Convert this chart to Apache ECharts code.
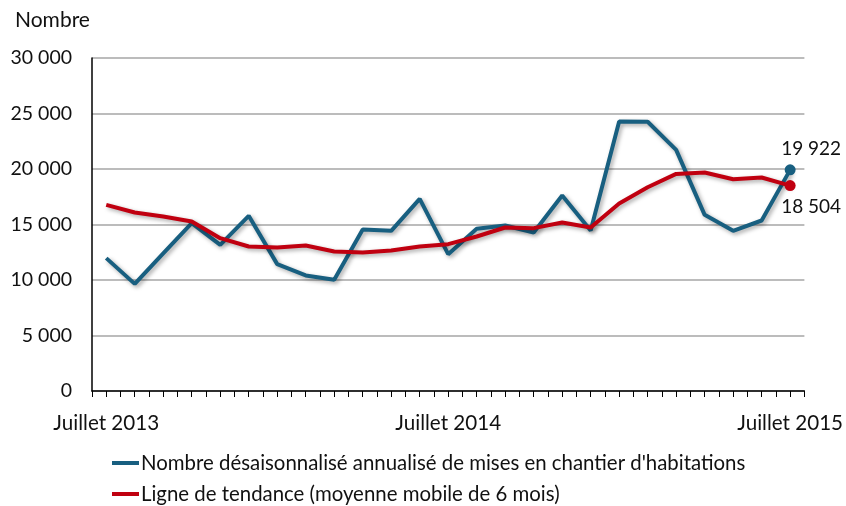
<!DOCTYPE html>
<html>
<head>
<meta charset="utf-8">
<title>Mises en chantier</title>
<script src="https://cdn.jsdelivr.net/npm/echarts@6/dist/echarts.min.js"></script>
<style>
  html, body { margin: 0; padding: 0; background: #fff; }
  #chart { width: 846px; height: 506px; }
</style>
</head>
<body>
<div id="chart"></div>
<script>
// mois, de juillet 2013 à juillet 2015
var months = [
  'Juillet 2013', 'Août 2013', 'Septembre 2013', 'Octobre 2013', 'Novembre 2013', 'Décembre 2013',
  'Janvier 2014', 'Février 2014', 'Mars 2014', 'Avril 2014', 'Mai 2014', 'Juin 2014',
  'Juillet 2014', 'Août 2014', 'Septembre 2014', 'Octobre 2014', 'Novembre 2014', 'Décembre 2014',
  'Janvier 2015', 'Février 2015', 'Mars 2015', 'Avril 2015', 'Mai 2015', 'Juin 2015',
  'Juillet 2015'
]
// nombre désaisonnalisé annualisé
var housingStarts = [
  11970, 9650, 12390, 15120, 13170, 15780, 11430, 10410, 10020, 14550, 14430, 17310,
  12330, 14610, 14910, 14280, 17610, 14460, 24270, 24260, 21720, 15870, 14430, 15360,
  19922
]
// moyenne mobile de 6 mois
var trend = [
  16770, 16080, 15720, 15270, 13770, 13020, 12930, 13110, 12570, 12480, 12660, 13020,
  13230, 13920, 14730, 14670, 15180, 14730, 16900, 18360, 19560, 19680, 19080, 19230,
  18504
]
var yTicks = [0, 5000, 10000, 15000, 20000, 25000, 30000]

var seriesNames = [
  "Nombre désaisonnalisé annualisé de mises en chantier d'habitations",
  'Ligne de tendance (moyenne mobile de 6 mois)'
]
var colors = ['#185f80', '#c00010']
var FONT = 'Lato'

function fmt(v) {
  return String(v).replace(/\B(?=(\d{3})+(?!\d))/g, ' ')
}

// seul le dernier point porte un marqueur et une étiquette
function withEndPoint(values, labelPos) {
  return values.map(function (v, i) {
    if (i !== values.length - 1) return v
    return {
      value: v,
      symbol: 'circle',
      symbolSize: 11,
      label: {
        show: true,
        position: labelPos,
        distance: 6,
        offset: [21, 0],
        fontFamily: FONT,
        fontSize: 19,
        color: '#111',
        formatter: function (p) { return fmt(p.value) }
      }
    }
  })
}

var lineShadow = {
  shadowColor: 'rgba(0,0,0,0.35)',
  shadowBlur: 4,
  shadowOffsetX: 2,
  shadowOffsetY: 2
}

function legendRow(name, top) {
  return {
    left: 107,
    top: top,
    itemWidth: 27,
    itemHeight: 4,
    icon: 'rect',
    textStyle: { fontFamily: FONT, fontSize: 20.4, color: '#111', lineHeight: 24, padding: [0, 0, 0, -3] },
    data: [name]
  }
}

var myChart = echarts.init(document.getElementById('chart'))
var options = {
  animation: false,
  textStyle: { fontFamily: FONT },
  title: {
    text: 'Nombre',
    left: 10,
    top: 5,
    textStyle: { fontFamily: FONT, fontSize: 21, fontWeight: 'normal', color: '#111' }
  },
  legend: [legendRow(seriesNames[0], 446), legendRow(seriesNames[1], 477)],
  grid: {
    left: 92,
    right: 40,
    top: 58,
    bottom: 115,
    containLabel: false
  },
  xAxis: [{
    type: 'category',
    boundaryGap: true,
    data: months,
    axisLine: { lineStyle: { color: '#000', width: 1.5 } },
    axisTick: { show: false },
    axisLabel: {
      interval: 11,
      margin: 22,
      fontFamily: FONT,
      fontSize: 20.6,
      color: '#111'
    }
  }, {
    // graduations fines sous l'axe
    type: 'value',
    position: 'bottom',
    min: 0,
    max: months.length * 2,
    interval: 1,
    axisLine: { show: false },
    axisTick: { show: true, length: 6, lineStyle: { color: '#000' } },
    axisLabel: { show: false },
    splitLine: { show: false }
  }],
  yAxis: {
    type: 'value',
    min: yTicks[0],
    max: yTicks[yTicks.length - 1],
    interval: yTicks[1] - yTicks[0],
    axisLine: { show: true, lineStyle: { color: '#000', width: 1.5 } },
    axisTick: { show: false },
    axisLabel: {
      margin: 20,
      fontFamily: FONT,
      fontSize: 19.5,
      color: '#111',
      formatter: fmt
    },
    splitLine: { lineStyle: { color: '#a6a6a6', width: 1.5 } }
  },
  series: [{
    name: seriesNames[0],
    type: 'line',
    xAxisIndex: 0,
    symbol: 'none',
    showSymbol: true,
    itemStyle: { color: colors[0] },
    lineStyle: Object.assign({ color: colors[0], width: 4 }, lineShadow),
    data: withEndPoint(housingStarts, 'top'),
    z: 3
  }, {
    name: seriesNames[1],
    type: 'line',
    xAxisIndex: 0,
    symbol: 'none',
    showSymbol: true,
    itemStyle: { color: colors[1] },
    lineStyle: Object.assign({ color: colors[1], width: 4 }, lineShadow),
    data: withEndPoint(trend, 'bottom'),
    z: 4
  }]
}
myChart.setOption(options)
</script>
</body>
</html>
